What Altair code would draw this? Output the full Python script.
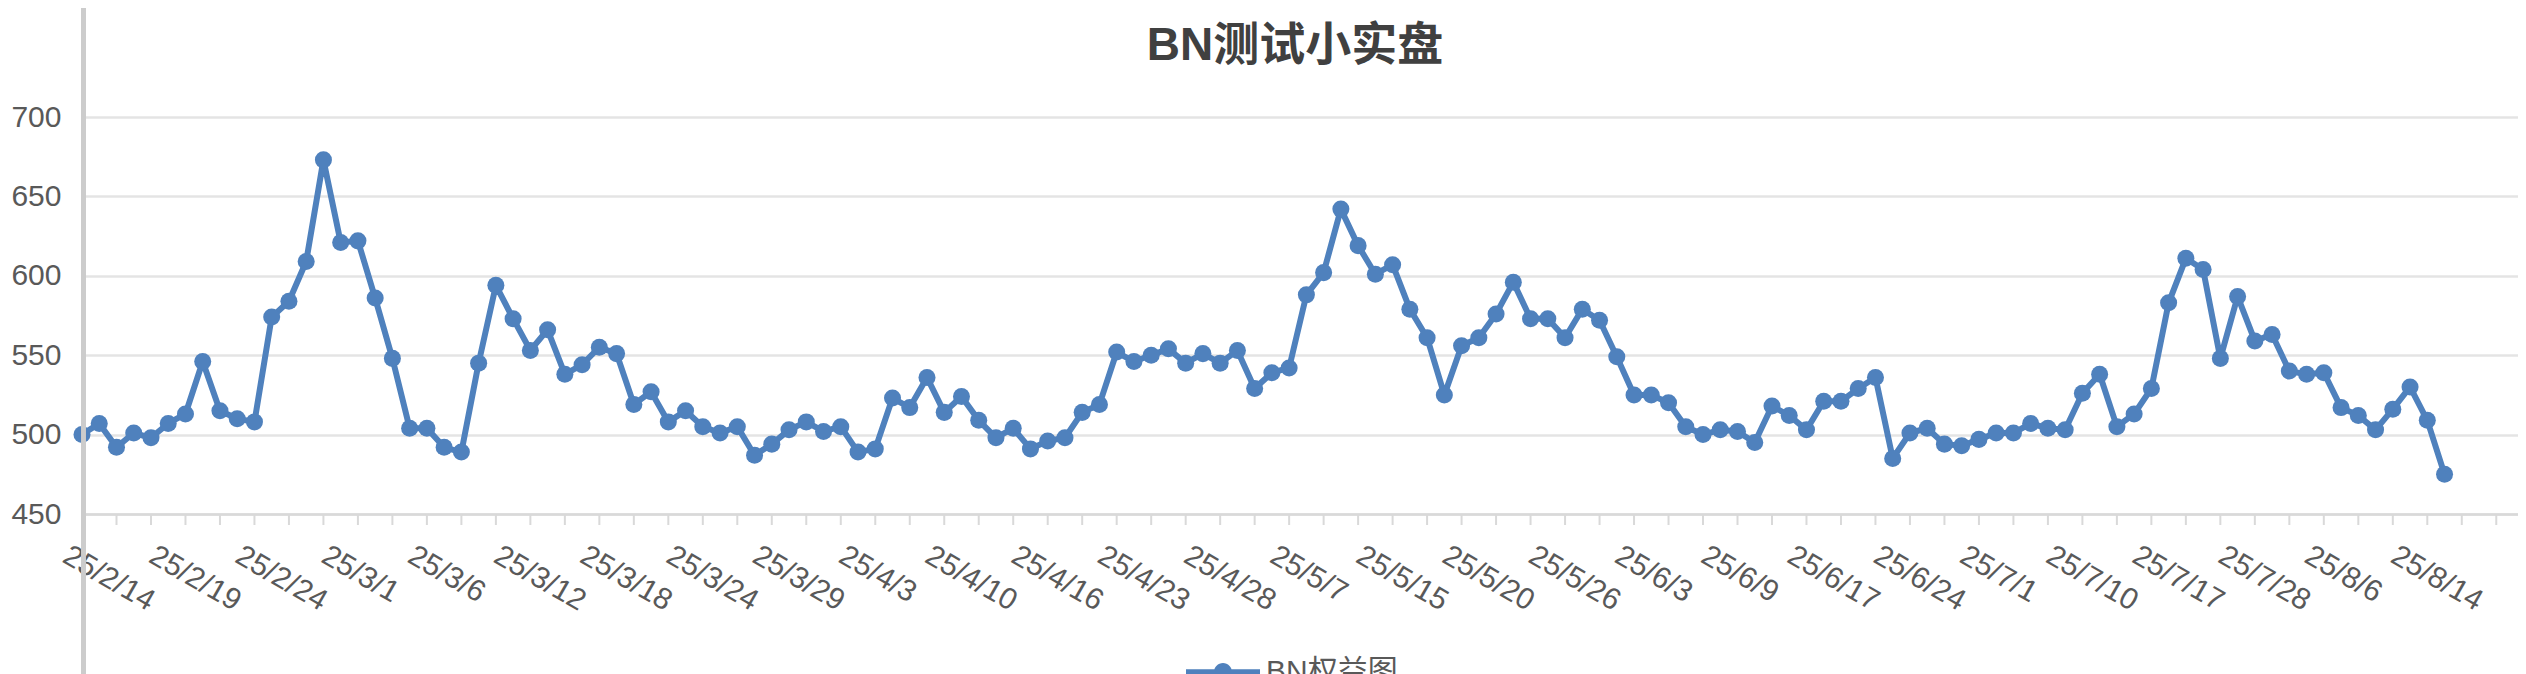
import altair as alt
import pandas as pd

# ---- data ----
values = [500, 507, 492, 501, 498, 507, 513, 546, 515, 510,
          508, 574, 584, 609, 673, 621, 622, 586, 548, 504,
          504, 492, 489, 545, 594, 573, 553, 566, 538, 544,
          555, 551, 519, 527, 508, 515, 505, 501, 505, 487,
          494, 503, 508, 502, 505, 489, 491, 523, 517, 536,
          514, 524, 509, 498, 504, 491, 496, 498, 514, 519,
          552, 546, 550, 554, 545, 551, 545, 553, 529, 539,
          542, 588, 602, 642, 619, 601, 607, 579, 561, 525,
          556, 561, 576, 596, 573, 573, 561, 579, 572, 549,
          525, 525, 520, 505, 500, 503, 502, 495, 518, 512,
          503, 521, 521, 529, 536, 485, 501, 504, 494, 493,
          497, 501, 501, 507, 504, 503, 526, 538, 505, 513,
          529, 583, 611, 604, 548, 587, 559, 563, 540, 538,
          539, 517, 512, 503, 516, 530, 509, 475]

tick_labels = ["25/2/14", "25/2/19", "25/2/24", "25/3/1", "25/3/6", "25/3/12",
               "25/3/18", "25/3/24", "25/3/29", "25/4/3", "25/4/10", "25/4/16",
               "25/4/23", "25/4/28", "25/5/7", "25/5/15", "25/5/20", "25/5/26",
               "25/6/3", "25/6/9", "25/6/17", "25/6/24", "25/7/1", "25/7/10",
               "25/7/17", "25/7/28", "25/8/6", "25/8/14"]

y_ticks = [450, 500, 550, 600, 650, 700]
series_name = "BN权益图"
title_text = "BN测试小实盘"

LABEL_STEP = 5
TICK_STEP = 2
N_SLOTS = 141.26

df = pd.DataFrame({"idx": list(range(len(values))), "value": values,
                   "series": [series_name] * len(values)})
tick_df = pd.DataFrame({"tick": list(range(0, 141, TICK_STEP))})
title_df = pd.DataFrame({"t": [title_text]})

BLUE = "#4f81bd"
FONT = "Liberation Sans, Arial, Noto Sans CJK SC"
W, H = 2436, 397

xscale = alt.Scale(domain=[0, N_SLOTS], nice=False, zero=False)
yscale = alt.Scale(domain=[450, 700], nice=False, zero=False)

label_array = "[" + ",".join("'%s'" % s for s in tick_labels) + "]"

x_axis = alt.Axis(
    values=list(range(0, len(tick_labels) * LABEL_STEP, LABEL_STEP)),
    labelExpr=label_array + "[round(datum.value / %d)]" % LABEL_STEP,
    labelAngle=30, labelAlign="left", labelBaseline="middle",
    labelOffset=-17, labelPadding=39, labelFontSize=30, labelColor="#595959",
    labelFont=FONT, labelOverlap=False, labelFlush=False, labelBound=False,
    ticks=False, tickSize=0, grid=False, domain=True,
    domainColor="#d9d9d9", domainWidth=2.7, title=None)

y_axis = alt.Axis(values=y_ticks, grid=True, gridColor="#e4e4e4", gridWidth=2.5,
                  domain=False, ticks=False, tickSize=0, labelPadding=21,
                  labelFontSize=30, labelColor="#595959", labelFont=FONT, title=None)

legend_path = ("M-1,-0.074H1V0.074H-1Z "
               "M0.243,0A0.243,0.243,0,1,1,-0.243,0A0.243,0.243,0,1,1,0.243,0Z")

line = alt.Chart(df).mark_line(color=BLUE, strokeWidth=6, strokeJoin="round").encode(
    x=alt.X("idx:Q", scale=xscale, axis=x_axis),
    y=alt.Y("value:Q", scale=yscale, axis=y_axis),
)

points = alt.Chart(df).mark_point(filled=True, size=290, opacity=1).encode(
    x=alt.X("idx:Q", scale=xscale, axis=x_axis),
    y=alt.Y("value:Q", scale=yscale, axis=y_axis),
    color=alt.Color("series:N", scale=alt.Scale(range=[BLUE]),
                    legend=alt.Legend(orient="none", legendX=1104, legendY=518,
                                      title=None, symbolType=legend_path,
                                      symbolSize=5476, symbolStrokeWidth=0,
                                      symbolOpacity=1, labelFontSize=30,
                                      labelColor="#595959", labelFont=FONT,
                                      labelOffset=6, padding=0)),
)

ticks = alt.Chart(tick_df).mark_rule(color="#d9d9d9", strokeWidth=2).encode(
    x=alt.X("tick:Q", scale=xscale, axis=x_axis),
    y=alt.value(H),
    y2=alt.value(H + 11),
)

vline = alt.Chart(tick_df).mark_rule(color="#cccccc", strokeWidth=3.5).encode(
    x=alt.value(1.5),
    y=alt.value(-109),
    y2=alt.value(H + 200),
)

title = alt.Chart(title_df).mark_text(
    align="center", baseline="alphabetic", fontSize=46, fontWeight="bold",
    color="#404040", font=FONT,
).encode(text="t:N", x=alt.value(1213), y=alt.value(-57))

chart = alt.layer(line, ticks, points, vline, title).properties(
    width=W, height=H,
    autosize=alt.AutoSizeParams(type="none"),
    padding={"left": 74, "top": 109, "right": 0, "bottom": 160},
).configure_view(stroke=None).configure(background="white")

chart.save("out.html", embed_options={"renderer": "svg", "actions": False})
